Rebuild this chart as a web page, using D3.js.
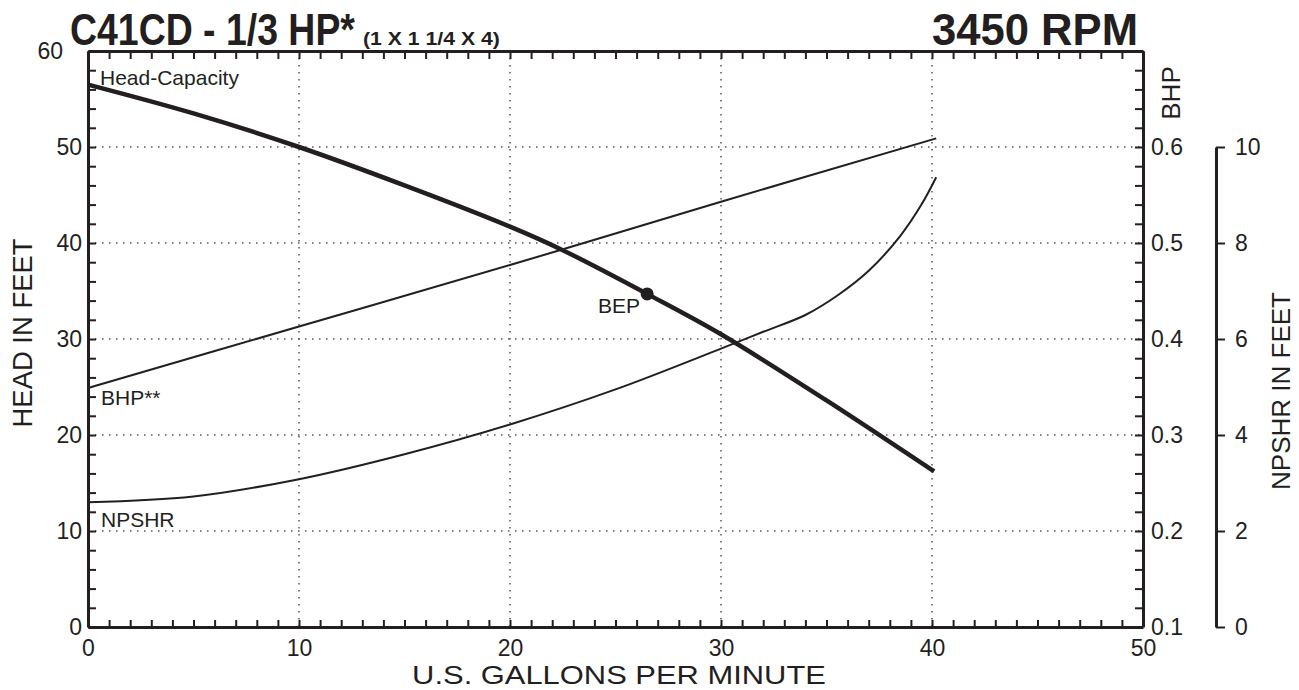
<!DOCTYPE html>
<html>
<head>
<meta charset="utf-8">
<script src="https://cdn.jsdelivr.net/npm/d3@7"></script>
<style>
  body { margin: 0; background: #fff; }
  svg { display: block; }
  text { fill: #231f20; font-family: "Liberation Sans", Arial, Helvetica, sans-serif; }
</style>
</head>
<body>
<svg id="chart" width="1299" height="690"></svg>
<script>
// ---------- DATA ----------
const headGpm   = [0, 5, 10, 15, 20, 22.5, 26.5, 30, 35, 40.1];
const headFeet  = [56.5, 53.5, 50.0, 46.0, 41.7, 39.25, 34.7, 30.5, 23.6, 16.2];

const bhpGpm    = [0, 10, 20, 30, 40.2];
const bhpValues = [0.349, 0.413, 0.477, 0.543, 0.609];

const npshrGpm    = [0, 5, 10, 15, 20, 25, 30, 32, 34, 35.5, 37, 38.5, 39.5, 40.2];
const npshrValues = [2.6, 2.72, 3.08, 3.6, 4.22, 4.95, 5.8, 6.15, 6.5, 6.9, 7.42, 8.15, 8.8, 9.37];

const bepPoint = { gpm: 26.5, head: 34.7, label: "BEP" };

const xTickLabels     = [0, 10, 20, 30, 40, 50];
const headTickLabels  = [0, 10, 20, 30, 40, 50, 60];
const bhpTickLabels   = [0.1, 0.2, 0.3, 0.4, 0.5, 0.6];
const npshrTickLabels = [0, 2, 4, 6, 8, 10];

const titleMain = "C41CD - 1/3 HP*";
const titleSub  = "(1 X 1 1/4 X 4)";
const titleRpm  = "3450 RPM";

// ---------- SETUP ----------
const ink = "#231f20";
const svg = d3.select("#chart");

const x      = d3.scaleLinear().domain([0, 50]).range([88, 1143]);
const yHead  = d3.scaleLinear().domain([0, 60]).range([627, 51]);
const yBhp   = d3.scaleLinear().domain([0.1, 0.7]).range([627, 51]);
const yNpshr = d3.scaleLinear().domain([0, 10]).range([627, 147]);

// fit a text horizontally to a width by scaling (keeps real bbox accurate)
function fitText(t, x0, y0, width, rotate, anchor) {
  t.attr("x", 0).attr("y", 0).attr("text-anchor", anchor || "start");
  const w = t.node().getComputedTextLength();
  const s = w > 0 ? width / w : 1;
  t.attr("transform", `translate(${x0},${y0})` + (rotate ? ` rotate(${rotate})` : "") + ` scale(${s},1)`);
}

// ---------- GRID ----------
const grid = svg.append("g").attr("stroke", "#555").attr("stroke-width", 1.5)
  .attr("stroke-dasharray", "1.5,5.5").attr("fill", "none");
[10, 20, 30, 40].forEach(v => {
  grid.append("line").attr("x1", x(v)).attr("x2", x(v)).attr("y1", yHead(60)).attr("y2", yHead(0));
});
[10, 20, 30, 40, 50].forEach(v => {
  grid.append("line").attr("x1", x(0)).attr("x2", x(50)).attr("y1", yHead(v)).attr("y2", yHead(v));
});

// ---------- AXES ----------
function styleAxis(g, fs) {
  g.attr("font-size", fs).attr("font-family", null);
  g.selectAll(".domain").attr("stroke", ink).attr("stroke-width", 3);
  g.selectAll(".tick line").attr("stroke", ink).attr("stroke-width", 2);
  g.selectAll(".tick text").attr("fill", ink)
    .style("font-family", '"Liberation Sans", Arial, Helvetica, sans-serif')
    .style("font-size", fs + "px");
}

const xTicks = d3.range(0, 51, 1);
const gBottom = svg.append("g").attr("transform", `translate(0,${yHead(0)})`)
  .call(d3.axisBottom(x).tickValues(xTicks).tickSizeInner(-7).tickSizeOuter(0).tickPadding(13)
    .tickFormat(d => xTickLabels.includes(d) ? d : ""));
styleAxis(gBottom, 23);

const gTop = svg.append("g").attr("transform", `translate(0,${yHead(60)})`)
  .call(d3.axisTop(x).tickValues(xTicks).tickSizeInner(-8).tickSizeOuter(0).tickFormat(""));
styleAxis(gTop, 23);

const headTicks = d3.range(0, 61, 2);
const gLeft = svg.append("g").attr("transform", `translate(${x(0)},0)`)
  .call(d3.axisLeft(yHead).tickValues(headTicks).tickSizeInner(-8).tickSizeOuter(0).tickPadding(6)
    .tickFormat(d => headTickLabels.includes(d) ? d : ""));
styleAxis(gLeft, 23);
// top label "60" sits left of the title in the reference
gLeft.selectAll(".tick").filter(d => d === 60).select("text").attr("x", -25);

const bhpTicks = d3.range(10, 71, 2).map(v => v / 100);
const gRight = svg.append("g").attr("transform", `translate(${x(50)},0)`)
  .call(d3.axisRight(yBhp).tickValues(bhpTicks).tickSizeInner(-8).tickSizeOuter(0).tickPadding(8)
    .tickFormat(d => bhpTickLabels.some(t => Math.abs(t - d) < 1e-6) ? d3.format(".1f")(d) : ""));
styleAxis(gRight, 23);

const gNpshr = svg.append("g").attr("transform", `translate(1216,0)`)
  .call(d3.axisRight(yNpshr).tickValues(npshrTickLabels).tickSizeInner(9).tickSizeOuter(0).tickPadding(10));
styleAxis(gNpshr, 23);

// ---------- CURVES ----------
const smooth = d3.curveCatmullRom.alpha(0.5);
const lineHead = d3.line().x(d => x(d[0])).y(d => yHead(d[1])).curve(smooth);
const lineBhp = d3.line().x(d => x(d[0])).y(d => yBhp(d[1])).curve(smooth);
const lineNpshr = d3.line().x(d => x(d[0])).y(d => yNpshr(d[1])).curve(smooth);

svg.append("path").datum(d3.zip(bhpGpm, bhpValues)).attr("d", lineBhp)
  .attr("fill", "none").attr("stroke", ink).attr("stroke-width", 2);
svg.append("path").datum(d3.zip(npshrGpm, npshrValues)).attr("d", lineNpshr)
  .attr("fill", "none").attr("stroke", ink).attr("stroke-width", 2);
svg.append("path").datum(d3.zip(headGpm, headFeet)).attr("d", lineHead)
  .attr("fill", "none").attr("stroke", ink).attr("stroke-width", 4.5);

svg.append("circle").attr("cx", x(bepPoint.gpm)).attr("cy", yHead(bepPoint.head)).attr("r", 6.5).attr("fill", ink);

// ---------- LABELS ----------
const lab = svg.append("g").style("font-size", "21px");
lab.append("text").attr("x", 100).attr("y", 85).text("Head-Capacity");
lab.append("text").attr("x", 101).attr("y", 405).text("BHP**");
lab.append("text").attr("x", 101).attr("y", 527).text("NPSHR");
lab.append("text").attr("x", x(bepPoint.gpm) - 7).attr("y", yHead(bepPoint.head) + 19)
  .attr("text-anchor", "end").text(bepPoint.label);

// axis titles
svg.append("text").style("font-size", "27px").text("HEAD IN FEET")
  .call(t => fitText(t, 32, 333, 189, -90, "middle"));
svg.append("text").style("font-size", "26px").text("U.S. GALLONS PER MINUTE")
  .call(t => fitText(t, 619, 684, 414, 0, "middle"));
svg.append("text").attr("transform", "translate(1180,93) rotate(-90)").attr("text-anchor", "middle")
  .style("font-size", "26px").text("BHP");
svg.append("text").attr("transform", "translate(1290,391) rotate(-90)").attr("text-anchor", "middle")
  .style("font-size", "26px").text("NPSHR IN FEET");

// titles
const narrow = '"Liberation Sans Narrow", "Arial Narrow", "Liberation Sans", Arial, sans-serif';
svg.append("text").style("font-family", narrow).style("font-weight", "bold").style("font-size", "45px")
  .text(titleMain).call(t => fitText(t, 70, 45, 285));
svg.append("text").style("font-family", narrow).style("font-weight", "bold").style("font-size", "19px")
  .text(titleSub).call(t => fitText(t, 363, 45, 137));
svg.append("text").style("font-family", narrow).style("font-weight", "bold").style("font-size", "45px")
  .text(titleRpm).call(t => fitText(t, 932, 45, 206));
</script>
</body>
</html>
